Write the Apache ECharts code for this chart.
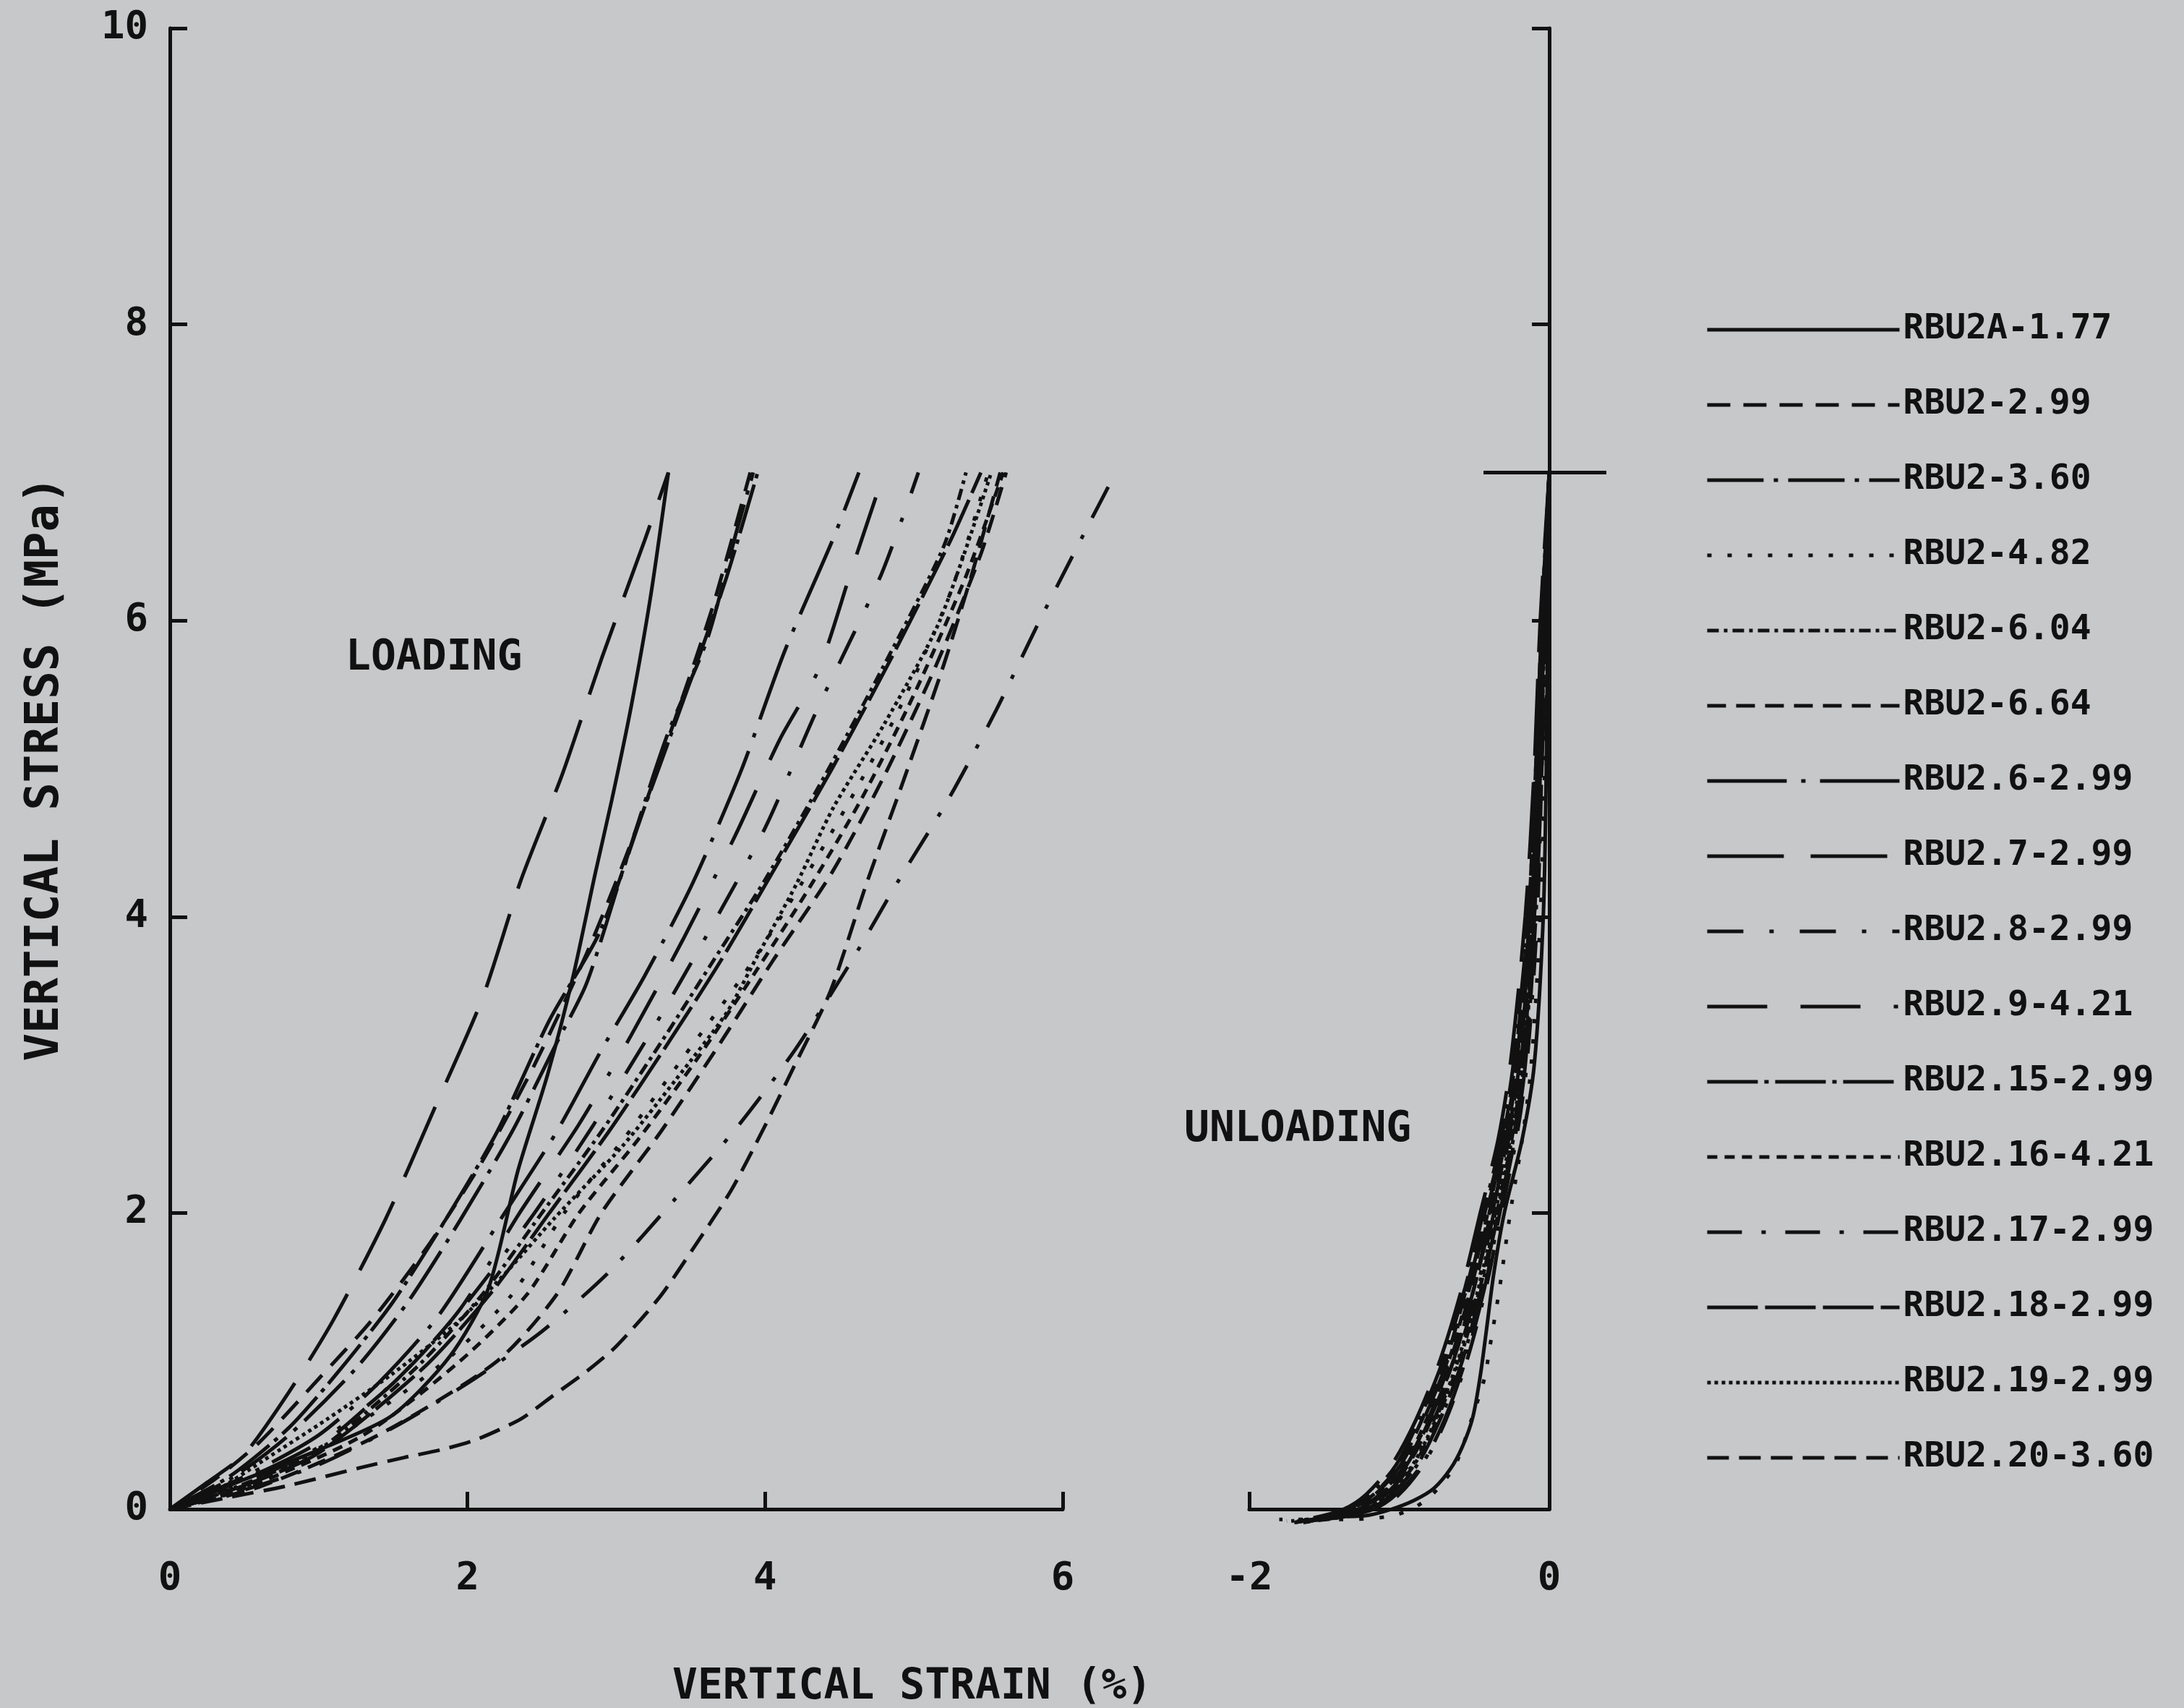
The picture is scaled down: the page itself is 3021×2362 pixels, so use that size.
<!DOCTYPE html>
<html>
<head>
<meta charset="utf-8">
<script src="https://cdn.jsdelivr.net/npm/echarts@6/dist/echarts.min.js"></script>
<style>
html,body{margin:0;padding:0;background:#c7c8ca;}
#chart{width:3021px;height:2362px;}
</style>
</head>
<body>
<div id="chart"></div>
<script>
// ---------- DATA ----------
const seriesNames = ["RBU2A-1.77","RBU2-2.99","RBU2-3.60","RBU2-4.82","RBU2-6.04","RBU2-6.64",
  "RBU2.6-2.99","RBU2.7-2.99","RBU2.8-2.99","RBU2.9-4.21","RBU2.15-2.99","RBU2.16-4.21",
  "RBU2.17-2.99","RBU2.18-2.99","RBU2.19-2.99","RBU2.20-3.60"];
const strainTicksLoading = [0, 2, 4, 6];
const strainTicksUnloading = [-2, 0];
const stressTicks = [0, 2, 4, 6, 8, 10];
const loadingPlotExtent = [0, 6.5];       // curves may run past the 6 % axis end
const peakMarkerStrain = [-0.44, 0.38];
const peakMarker = [[-0.44, 7], [0.38, 7]];

// loading curves [strain %, stress MPa]
const L_RBU2A_177 = [[0,0],[0.5,0.2],[1.0,0.4],[1.49,0.63],[1.88,1.03],[2.14,1.49],[2.34,2.29],[2.54,2.94],[2.71,3.6],[2.86,4.3],[2.97,4.79],[3.1,5.42],[3.23,6.16],[3.35,7.0]];
const L_RBU2_299 = [[0,0],[0.3,0.2],[0.6,0.45],[1.0,0.88],[1.36,1.28],[1.75,1.8],[2.1,2.35],[2.45,3.0],[2.8,3.75],[3.1,4.5],[3.4,5.35],[3.65,6.1],[3.9,7.0]];
const L_RBU2_360 = [[0,0],[0.4,0.2],[0.8,0.5],[1.25,0.95],[1.6,1.4],[1.95,1.95],[2.3,2.55],[2.6,3.15],[2.8,3.55],[3.04,4.3],[3.34,5.22],[3.61,5.87],[3.81,6.61],[3.92,7.0]];
const L_RBU2_482 = [[0,0],[0.5,0.15],[1.15,0.5],[1.85,1.0],[2.3,1.45],[2.65,2.0],[3.05,2.5],[3.45,3.05],[3.85,3.6],[4.2,4.15],[4.55,4.75],[4.9,5.4],[5.25,6.2],[5.5,7.0]];
const L_RBU2_604 = [[0,0],[0.5,0.17],[1.0,0.4],[1.65,0.95],[2.1,1.45],[2.5,2.0],[2.9,2.55],[3.3,3.15],[3.65,3.7],[4.0,4.25],[4.4,4.95],[4.8,5.7],[5.2,6.5],[5.35,7.0]];
const L_RBU2_664 = [[0,0],[0.6,0.15],[1.4,0.5],[2.2,1.0],[2.6,1.45],[2.9,2.0],[3.3,2.55],[3.7,3.15],[4.05,3.7],[4.45,4.3],[4.8,4.95],[5.15,5.7],[5.45,6.45],[5.62,7.0]];
const L_RBU26_299 = [[0,0],[0.5,0.22],[1.0,0.5],[1.4,0.85],[1.8,1.3],[2.25,2.0],[2.6,2.55],[2.9,3.1],[3.19,3.6],[3.51,4.22],[3.84,4.99],[4.13,5.79],[4.46,6.56],[4.63,7.0]];
const L_RBU27_299 = [[0,0],[0.25,0.18],[0.5,0.37],[0.8,0.79],[1.1,1.28],[1.45,1.96],[1.78,2.71],[2.1,3.45],[2.36,4.25],[2.64,4.97],[2.9,5.74],[3.19,6.54],[3.35,7.0]];
const L_RBU28_299 = [[0,0],[0.5,0.18],[1.0,0.42],[1.6,0.95],[2.0,1.4],[2.45,2.0],[2.85,2.6],[3.25,3.25],[3.65,3.95],[4.0,4.6],[4.35,5.4],[4.78,6.31],[5.03,7.0]];
const L_RBU29_421 = [[0,0],[0.5,0.2],[1.0,0.45],[1.5,0.85],[1.95,1.35],[2.35,2.0],[2.75,2.6],[3.1,3.2],[3.45,3.85],[3.8,4.55],[4.1,5.2],[4.36,5.67],[4.58,6.34],[4.8,7.0]];
const L_RBU215_299 = [[0,0],[0.4,0.22],[0.8,0.55],[1.15,0.95],[1.5,1.4],[1.85,1.95],[2.2,2.55],[2.55,3.3],[2.89,3.9],[3.19,4.74],[3.49,5.57],[3.74,6.29],[3.95,7.0]];
const L_RBU216_421 = [[0,0],[0.5,0.14],[1.3,0.5],[1.95,1.0],[2.4,1.45],[2.75,2.0],[3.15,2.5],[3.55,3.05],[3.95,3.65],[4.3,4.2],[4.65,4.8],[5.0,5.5],[5.35,6.3],[5.6,7.0]];
const L_RBU217_299 = [[0,0],[0.5,0.13],[1.0,0.3],[1.5,0.55],[2.0,0.85],[2.5,1.2],[2.96,1.61],[3.4,2.1],[3.82,2.59],[4.2,3.1],[4.58,3.7],[4.9,4.25],[5.23,4.79],[5.54,5.37],[5.84,5.99],[6.17,6.64],[6.32,6.93]];
const L_RBU218_299 = [[0,0],[0.5,0.16],[1.0,0.38],[1.7,0.95],[2.15,1.45],[2.55,2.0],[2.95,2.55],[3.35,3.15],[3.7,3.7],[4.05,4.3],[4.45,5.0],[4.85,5.75],[5.25,6.55],[5.45,7.0]];
const L_RBU219_299 = [[0,0],[0.3,0.12],[0.63,0.33],[1.06,0.61],[1.49,0.91],[1.93,1.26],[2.27,1.61],[2.58,1.96],[3.04,2.45],[3.4,2.9],[3.74,3.35],[3.94,3.72],[4.21,4.22],[4.46,4.74],[4.8,5.3],[5.17,5.99],[5.52,7.0]];
const L_RBU220_360 = [[0,0],[0.4,0.08],[0.8,0.16],[1.28,0.28],[1.58,0.35],[1.82,0.4],[2.06,0.47],[2.36,0.61],[2.58,0.77],[2.8,0.93],[3.0,1.1],[3.29,1.43],[3.51,1.75],[3.77,2.15],[3.99,2.57],[4.2,3.0],[4.44,3.5],[4.68,4.22],[4.93,4.92],[5.2,5.7],[5.4,6.35],[5.58,7.0]];

// unloading curves [strain %, stress MPa]
const U_RBU2A_177 = [[0,7],[-0.01,6],[-0.02,5],[-0.04,4],[-0.1,3],[-0.18,2.5],[-0.3,2],[-0.37,1.59],[-0.42,1.2],[-0.46,0.9],[-0.51,0.62],[-0.58,0.42],[-0.66,0.27],[-0.77,0.14],[-0.9,0.06],[-1.05,0.0],[-1.2,-0.04],[-1.35,-0.05]];
const U_RBU2_299 = [[0,7],[-0.04,6],[-0.08,5],[-0.12,4],[-0.21,3],[-0.29,2.5],[-0.4,2],[-0.52,1.5],[-0.66,1],[-0.81,0.6],[-0.96,0.3],[-1.13,0.1],[-1.28,0],[-1.5,-0.06],[-1.66,-0.08]];
const U_RBU2_360 = [[0,7],[-0.05,6],[-0.09,5],[-0.14,4],[-0.24,3],[-0.32,2.5],[-0.44,2],[-0.56,1.5],[-0.71,1],[-0.87,0.6],[-1.02,0.3],[-1.19,0.1],[-1.34,0],[-1.55,-0.06],[-1.72,-0.08]];
const U_RBU2_482 = [[0,7],[-0.01,6],[-0.03,5],[-0.06,4],[-0.12,3],[-0.18,2.5],[-0.26,2],[-0.33,1.5],[-0.4,1.07],[-0.43,0.89],[-0.52,0.6],[-0.62,0.31],[-0.7,0.19],[-0.8,0.08],[-0.92,0.0],[-1.07,-0.05],[-1.4,-0.07],[-1.8,-0.07]];
const U_RBU2_604 = [[0,7],[-0.03,6],[-0.06,5],[-0.1,4],[-0.18,3],[-0.25,2.5],[-0.35,2],[-0.46,1.5],[-0.6,1],[-0.75,0.6],[-0.9,0.3],[-1.07,0.1],[-1.22,0],[-1.42,-0.06],[-1.6,-0.08]];
const U_RBU2_664 = [[0,7],[-0.04,6],[-0.07,5],[-0.11,4],[-0.2,3],[-0.28,2.5],[-0.39,2],[-0.5,1.5],[-0.64,1],[-0.79,0.6],[-0.94,0.3],[-1.11,0.1],[-1.26,0],[-1.46,-0.06],[-1.64,-0.09]];
const U_RBU26_299 = [[0,7],[-0.02,6],[-0.05,5],[-0.09,4],[-0.16,3],[-0.23,2.5],[-0.33,2],[-0.43,1.5],[-0.56,1],[-0.7,0.6],[-0.85,0.3],[-1.02,0.1],[-1.17,0],[-1.38,-0.05],[-1.55,-0.07]];
const U_RBU27_299 = [[0,7],[-0.06,6],[-0.1,5],[-0.16,4],[-0.26,3],[-0.34,2.5],[-0.46,2],[-0.58,1.5],[-0.73,1],[-0.89,0.6],[-1.05,0.3],[-1.22,0.1],[-1.37,0],[-1.58,-0.06],[-1.75,-0.08]];
const U_RBU28_299 = [[0,7],[-0.03,6],[-0.07,5],[-0.11,4],[-0.19,3],[-0.27,2.5],[-0.37,2],[-0.48,1.5],[-0.62,1],[-0.77,0.6],[-0.92,0.3],[-1.09,0.1],[-1.24,0],[-1.45,-0.06],[-1.62,-0.08]];
const U_RBU29_421 = [[0,7],[-0.05,6],[-0.08,5],[-0.13,4],[-0.22,3],[-0.3,2.5],[-0.42,2],[-0.54,1.5],[-0.68,1],[-0.84,0.6],[-0.99,0.3],[-1.16,0.1],[-1.31,0],[-1.52,-0.06],[-1.7,-0.09]];
const U_RBU215_299 = [[0,7],[-0.03,6],[-0.06,5],[-0.1,4],[-0.17,3],[-0.24,2.5],[-0.34,2],[-0.45,1.5],[-0.58,1],[-0.73,0.6],[-0.88,0.3],[-1.05,0.1],[-1.2,0],[-1.4,-0.05],[-1.58,-0.07]];
const U_RBU216_421 = [[0,7],[-0.04,6],[-0.08,5],[-0.12,4],[-0.22,3],[-0.3,2.5],[-0.41,2],[-0.53,1.5],[-0.67,1],[-0.82,0.6],[-0.97,0.3],[-1.14,0.1],[-1.3,0],[-1.5,-0.06],[-1.68,-0.08]];
const U_RBU217_299 = [[0,7],[-0.02,6],[-0.05,5],[-0.08,4],[-0.15,3],[-0.22,2.5],[-0.32,2],[-0.42,1.5],[-0.55,1],[-0.69,0.6],[-0.84,0.3],[-1.0,0.1],[-1.15,0],[-1.36,-0.05],[-1.52,-0.07]];
const U_RBU218_299 = [[0,7],[-0.04,6],[-0.07,5],[-0.12,4],[-0.2,3],[-0.28,2.5],[-0.38,2],[-0.5,1.5],[-0.64,1],[-0.8,0.6],[-0.95,0.3],[-1.12,0.1],[-1.27,0],[-1.48,-0.06],[-1.65,-0.08]];
const U_RBU219_299 = [[0,7],[-0.03,6],[-0.06,5],[-0.1,4],[-0.18,3],[-0.26,2.5],[-0.36,2],[-0.47,1.5],[-0.61,1],[-0.76,0.6],[-0.91,0.3],[-1.08,0.1],[-1.23,0],[-1.44,-0.06],[-1.62,-0.08]];
const U_RBU220_360 = [[0,7],[-0.05,6],[-0.09,5],[-0.14,4],[-0.23,3],[-0.31,2.5],[-0.43,2],[-0.55,1.5],[-0.69,1],[-0.85,0.6],[-1.0,0.3],[-1.17,0.1],[-1.32,0],[-1.53,-0.06],[-1.7,-0.09]];

const loadingCurves = [L_RBU2A_177,L_RBU2_299,L_RBU2_360,L_RBU2_482,L_RBU2_604,L_RBU2_664,L_RBU26_299,L_RBU27_299,L_RBU28_299,L_RBU29_421,L_RBU215_299,L_RBU216_421,L_RBU217_299,L_RBU218_299,L_RBU219_299,L_RBU220_360];
const unloadingCurves = [U_RBU2A_177,U_RBU2_299,U_RBU2_360,U_RBU2_482,U_RBU2_604,U_RBU2_664,U_RBU26_299,U_RBU27_299,U_RBU28_299,U_RBU29_421,U_RBU215_299,U_RBU216_421,U_RBU217_299,U_RBU218_299,U_RBU219_299,U_RBU220_360];

// ---------- STYLE ----------
const dashPatterns = ['solid',[32,18],[78,14,6,14],[6,22],[16,7,5,7],[26,14],[110,20,6,20],[106,37],[50,36,6,36],[83,46,83,46,6,46],[70,9,6,9],[14,10],[48,27,6,27],[70,10],[5,5],[30,14]];
const INK = '#111111';
const BG = '#c7c8ca';
const FONT = '"DejaVu Sans Mono", "Liberation Mono", monospace';
const LW = 5;

const chart = echarts.init(document.getElementById('chart'), null, {renderer:'canvas'});

const series = [];
seriesNames.forEach((n, i) => {
  const ls = {color: INK, width: LW, type: dashPatterns[i]};
  series.push({name: n, type: 'line', xAxisIndex: 2, yAxisIndex: 2, data: loadingCurves[i],
    symbol: 'none', smooth: 0.25, clip: false, lineStyle: ls, itemStyle: {color: INK}, z: 3});
  series.push({name: n, type: 'line', xAxisIndex: 1, yAxisIndex: 1, data: unloadingCurves[i],
    symbol: 'none', smooth: 0.3, clip: false, lineStyle: ls, itemStyle: {color: INK}, z: 3});
});
series.push({name: 'peak', type: 'line', xAxisIndex: 3, yAxisIndex: 3, data: peakMarker,
  symbol: 'none', clip: false, lineStyle: {color: INK, width: 5, type: 'solid'}, z: 4});

const axisCommon = {
  axisLine: {show: true, lineStyle: {color: INK, width: 5}},
  axisTick: {show: true, inside: true, length: 24, lineStyle: {color: INK, width: 5}},
  splitLine: {show: false},
};
const labelStyle = {color: INK, fontSize: 54, fontFamily: FONT, fontWeight: 'bold'};
const PX_PER_STRAIN = 1235 / 6;

const option = {
  backgroundColor: BG,
  animation: false,
  grid: [
    {left: 235, top: 39, width: 1235, height: 2048},
    {left: 1728, top: 39, width: 415, height: 2048},
    {left: 235, top: 39, width: PX_PER_STRAIN * (loadingPlotExtent[1] - loadingPlotExtent[0]), height: 2048},
    {left: 2052, top: 39, width: 170, height: 2048}
  ],
  xAxis: [
    Object.assign({type: 'value', gridIndex: 0, min: strainTicksLoading[0], max: strainTicksLoading[strainTicksLoading.length-1], interval: 2,
      axisLabel: Object.assign({margin: 70}, labelStyle)}, axisCommon),
    Object.assign({type: 'value', gridIndex: 1, min: strainTicksUnloading[0], max: strainTicksUnloading[1], interval: 2,
      axisLabel: Object.assign({margin: 70}, labelStyle)}, axisCommon),
    {type: 'value', gridIndex: 2, min: loadingPlotExtent[0], max: loadingPlotExtent[1], show: false},
    {type: 'value', gridIndex: 3, min: peakMarkerStrain[0], max: peakMarkerStrain[1], show: false}
  ],
  yAxis: [
    Object.assign({type: 'value', gridIndex: 0, min: stressTicks[0], max: stressTicks[stressTicks.length-1], interval: 2,
      name: 'VERTICAL STRESS (MPa)', nameLocation: 'middle', nameGap: 140,
      nameTextStyle: {color: INK, fontSize: 64, fontFamily: FONT, fontWeight: 'bold'},
      axisLabel: Object.assign({margin: 30}, labelStyle)}, axisCommon),
    Object.assign({type: 'value', gridIndex: 1, position: 'right', min: stressTicks[0], max: stressTicks[stressTicks.length-1], interval: 2,
      axisLabel: {show: false}}, axisCommon),
    {type: 'value', gridIndex: 2, min: stressTicks[0], max: stressTicks[stressTicks.length-1], show: false},
    {type: 'value', gridIndex: 3, min: stressTicks[0], max: stressTicks[stressTicks.length-1], show: false}
  ],
  legend: {
    data: seriesNames,
    orient: 'vertical',
    left: 2354, top: 427,
    itemWidth: 266, itemHeight: 48, itemGap: 56,
    itemStyle: {opacity: 0},
    lineStyle: {width: LW},
    textStyle: {color: INK, fontSize: 48, fontFamily: FONT, fontWeight: 'bold', lineHeight: 48},
    inactiveColor: '#888'
  },
  graphic: [
    {type: 'text', left: 478, top: 882, style: {text: 'LOADING', font: 'bold 58px ' + FONT, fill: INK}},
    {type: 'text', left: 1638, top: 1534, style: {text: 'UNLOADING', font: 'bold 58px ' + FONT, fill: INK}},
    {type: 'text', left: 930, top: 2305, style: {text: 'VERTICAL STRAIN (%)', font: 'bold 58px ' + FONT, fill: INK}}
  ],
  series: series
};
chart.setOption(option);
</script>
</body>
</html>
